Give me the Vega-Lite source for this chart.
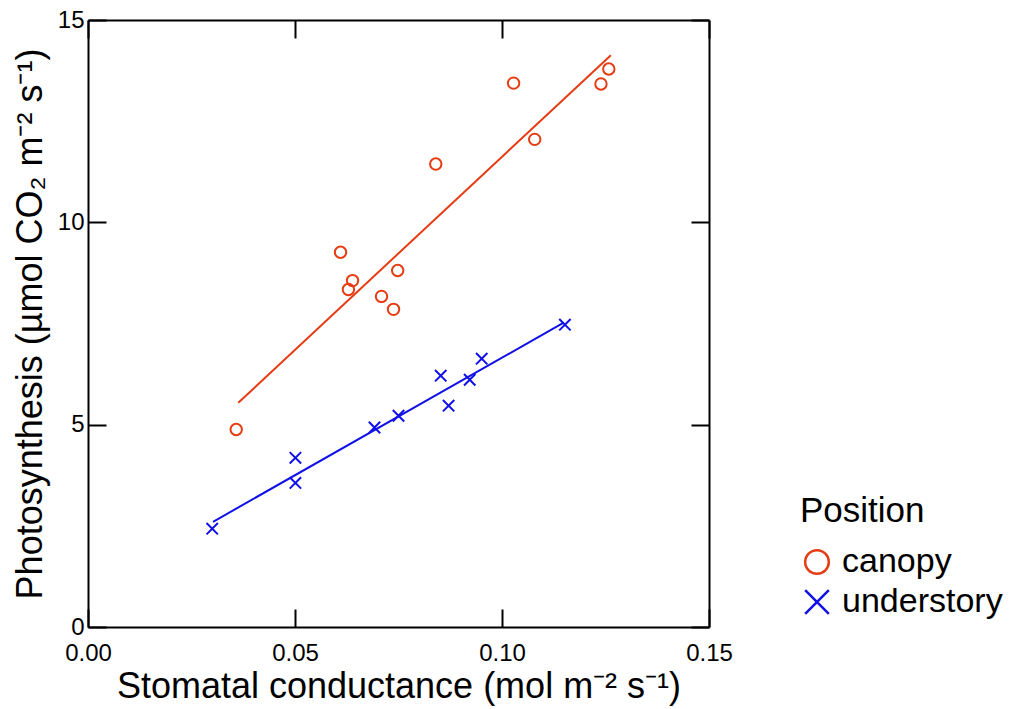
{
  "$schema": "https://vega.github.io/schema/vega-lite/v6.json",
  "width": 621,
  "height": 607,
  "autosize": {"type": "pad"},
  "padding": {"left": 12, "top": 8, "right": 5, "bottom": 5},
  "config": {
    "font": "Liberation Sans",
    "view": {"stroke": null},
    "axis": {
      "domainColor": "#000000",
      "domainWidth": 2,
      "tickColor": "#000000",
      "tickWidth": 2,
      "tickSize": -18,
      "grid": false,
      "labelFlush": false,
      "labelFont": "Liberation Sans",
      "labelFontSize": 24,
      "labelColor": "#000000",
      "titleFont": "Liberation Sans",
      "titleFontSize": 36,
      "titleFontWeight": "normal",
      "titleColor": "#000000"
    },
    "legend": {
      "titleFont": "Liberation Sans",
      "titleFontSize": 35,
      "titleFontWeight": "normal",
      "titleColor": "#000000",
      "labelFont": "Liberation Sans",
      "labelFontSize": 34,
      "labelColor": "#000000",
      "labelLimit": 400
    }
  },
  "datasets": {
    "pts": [
      {"gs": 0.0358, "A": 4.88, "Position": "canopy"},
      {"gs": 0.0610, "A": 9.26, "Position": "canopy"},
      {"gs": 0.0629, "A": 8.34, "Position": "canopy"},
      {"gs": 0.0639, "A": 8.56, "Position": "canopy"},
      {"gs": 0.0709, "A": 8.17, "Position": "canopy"},
      {"gs": 0.0738, "A": 7.85, "Position": "canopy"},
      {"gs": 0.0748, "A": 8.81, "Position": "canopy"},
      {"gs": 0.0840, "A": 11.44, "Position": "canopy"},
      {"gs": 0.1028, "A": 13.44, "Position": "canopy"},
      {"gs": 0.1079, "A": 12.05, "Position": "canopy"},
      {"gs": 0.1239, "A": 13.42, "Position": "canopy"},
      {"gs": 0.1258, "A": 13.79, "Position": "canopy"},
      {"gs": 0.0300, "A": 2.43, "Position": "understory"},
      {"gs": 0.0501, "A": 4.18, "Position": "understory"},
      {"gs": 0.0501, "A": 3.56, "Position": "understory"},
      {"gs": 0.0692, "A": 4.93, "Position": "understory"},
      {"gs": 0.0750, "A": 5.22, "Position": "understory"},
      {"gs": 0.0852, "A": 6.21, "Position": "understory"},
      {"gs": 0.0871, "A": 5.47, "Position": "understory"},
      {"gs": 0.0922, "A": 6.11, "Position": "understory"},
      {"gs": 0.0951, "A": 6.63, "Position": "understory"},
      {"gs": 0.1152, "A": 7.47, "Position": "understory"}
    ],
    "fit": [
      {"gs": 0.0363, "A": 5.54, "Position": "canopy"},
      {"gs": 0.1263, "A": 14.13, "Position": "canopy"},
      {"gs": 0.0302, "A": 2.60, "Position": "understory"},
      {"gs": 0.1149, "A": 7.52, "Position": "understory"}
    ]
  },
  "resolve": {"axis": {"x": "independent", "y": "independent"}},
  "layer": [
    {
      "data": {"name": "fit"},
      "transform": [{"filter": "datum.Position === 'canopy'"}],
      "mark": {"type": "line", "color": "#e63c14", "strokeWidth": 2},
      "encoding": {
        "x": {
          "field": "gs", "type": "quantitative",
          "scale": {"domain": [0, 0.15], "nice": false, "zero": false},
          "axis": {"orient": "bottom", "values": [0, 0.05, 0.1, 0.15], "format": ".2f", "labelPadding": 32, "title": "Stomatal conductance (mol m⁻² s⁻¹)", "titlePadding": 4}
        },
        "y": {
          "field": "A", "type": "quantitative",
          "scale": {"domain": [0, 15], "nice": false, "zero": false},
          "axis": {"orient": "left", "values": [0, 5, 10, 15], "labelPadding": 22, "title": "Photosynthesis (µmol CO₂ m⁻² s⁻¹)", "titlePadding": 8}
        }
      }
    },
    {
      "data": {"name": "fit"},
      "transform": [{"filter": "datum.Position === 'understory'"}],
      "mark": {"type": "line", "color": "#1010e8", "strokeWidth": 2},
      "encoding": {
        "x": {
          "field": "gs", "type": "quantitative",
          "axis": {"orient": "top", "values": [0, 0.05, 0.1, 0.15], "labels": false, "title": null}
        },
        "y": {
          "field": "A", "type": "quantitative",
          "axis": {"orient": "right", "values": [0, 5, 10, 15], "labels": false, "title": null}
        }
      }
    },
    {
      "data": {"name": "pts"},
      "mark": {"type": "point", "filled": false, "strokeWidth": 2, "opacity": 1, "size": 130},
      "encoding": {
        "x": {"field": "gs", "type": "quantitative", "axis": null},
        "y": {"field": "A", "type": "quantitative", "axis": null},
        "color": {
          "field": "Position", "type": "nominal",
          "scale": {"domain": ["canopy", "understory"], "range": ["#e63c14", "#1010e8"]},
          "legend": {
            "title": "Position", "orient": "none", "legendX": 712, "legendY": 474,
            "symbolSize": 560, "symbolStrokeWidth": 2.5, "rowPadding": 6, "labelOffset": 8, "titlePadding": 16
          }
        },
        "shape": {
          "field": "Position", "type": "nominal",
          "scale": {"domain": ["canopy", "understory"], "range": ["circle", "M-1,-1L1,1M-1,1L1,-1"]}
        }
      }
    }
  ]
}
